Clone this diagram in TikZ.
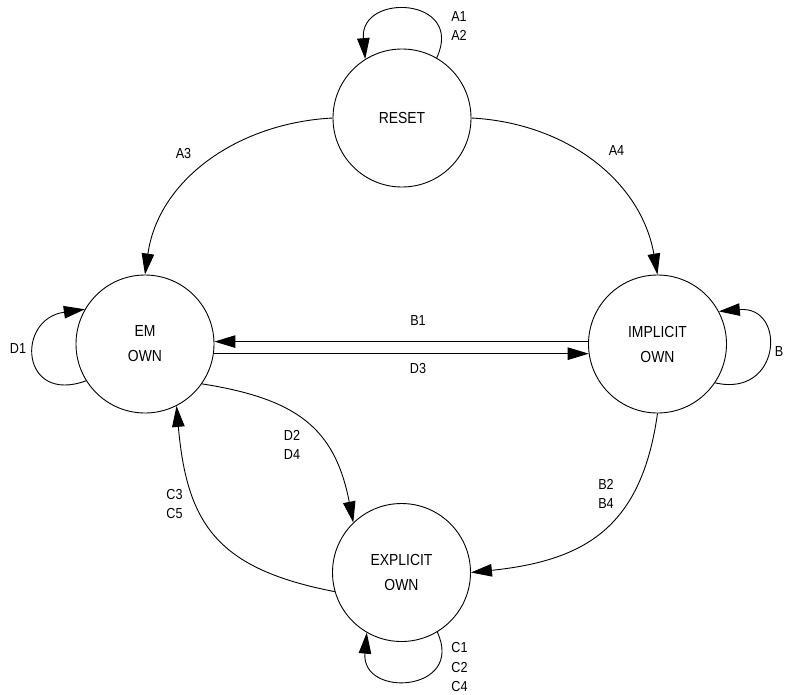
\documentclass[tikz,border=0pt]{standalone}
\usepackage{fontspec}
\setmainfont{Liberation Sans}[FakeStretch=0.87]
\usetikzlibrary{arrows.meta}
\begin{document}
\begin{tikzpicture}[x=1pt,y=1pt,
  state/.style={circle,draw,line width=0.9pt,minimum size=138pt,inner sep=0pt,align=center,font=\fontsize{16}{25}\selectfont},
  lbl/.style={align=center,inner sep=0pt,font=\fontsize{14.5}{19.5}\selectfont},
  arr/.style={line width=0.9pt,-{Triangle[length=21pt,width=12.5pt]}}]
\useasboundingbox (0,0) rectangle (785,-694);
\node[state] (reset) at (402,-118) {RESET};
\node[state] (em) at (145,-344) {EM\\OWN};
\node[state] (implicit) at (657.5,-344) {IMPLICIT\\OWN};
\node[state] (explicit) at (401.5,-572.5) {EXPLICIT\\OWN};

\draw[arr] (reset.60) to[out=65,in=95,looseness=2.4] (reset.122);
\draw[arr] (reset.180) to[out=183,in=82] (em.90);
\draw[arr] (reset.0) to[out=-3,in=100] (implicit.90);
\draw[arr] (implicit.178) -- (em.2);
\draw[arr] (em.-8) -- (implicit.188);
\draw[arr] (em.212) to[out=200,in=188,looseness=2.5] (em.150);
\draw[arr] (implicit.-34) to[out=-13,in=5,looseness=2.44] (implicit.28);
\draw[arr] (em.-35) to[out=-9,in=101,looseness=1.2] (explicit.134);
\draw[arr] (explicit.196) to[out=169,in=-85,looseness=1.25] (em.297);
\draw[arr] (implicit.-90) to[out=-98,in=6,looseness=1.2] (explicit.0);
\draw[arr] (explicit.-59) to[out=-65,in=-95,looseness=2.4] (explicit.-120);

\node[lbl] (la12) at (459,-26) {A1\\A2};
\node[lbl] (la3) at (183.5,-154) {A3};
\node[lbl] (la4) at (616.5,-151) {A4};
\node[lbl] (lb1) at (418,-321) {B1};
\node[lbl] (ld3) at (418,-369) {D3};
\node[lbl] (lb) at (779,-352) {B};
\node[lbl] (ld1) at (18,-349) {D1};
\node[lbl] (ld24) at (292,-445) {D2\\D4};
\node[lbl] (lc35) at (174.5,-504) {C3\\C5};
\node[lbl] (lb24) at (606,-494) {B2\\B4};
\node[lbl] (lc) at (459.5,-667) {C1\\C2\\C4};
\end{tikzpicture}
\end{document}
